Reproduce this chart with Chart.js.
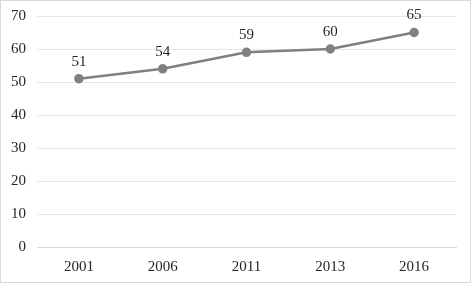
<!DOCTYPE html>
<html><head><meta charset="utf-8">
<script src="https://cdn.jsdelivr.net/npm/chart.js@4"></script>
<style>
html,body{margin:0;padding:0;background:#fff;}
#wrap{width:471px;height:283px;box-sizing:border-box;border:1px solid #d9d9d9;}
</style></head>
<body>
<div id="wrap"><canvas id="c" width="469" height="281"></canvas></div>
<script>
const categories = ['2001','2006','2011','2013','2016'];
const values = [51, 54, 59, 60, 65];
const yTicks = [0,10,20,30,40,50,60,70];

const FONT = "'Liberation Serif', 'Times New Roman', serif";
const labelPlugin = {
  id: 'valueLabels',
  afterDatasetsDraw(chart) {
    const ctx = chart.ctx;
    const meta = chart.getDatasetMeta(0);
    ctx.save();
    ctx.font = '15px ' + FONT;
    ctx.fillStyle = '#262626';
    ctx.textAlign = 'center';
    ctx.textBaseline = 'middle';
    meta.data.forEach((pt, i) => {
      ctx.fillText(String(values[i]), pt.x, pt.y - 17);
    });
    ctx.restore();
  }
};

new Chart(document.getElementById('c'), {
  type: 'line',
  data: {
    labels: categories,
    datasets: [{
      data: values,
      borderColor: '#808080',
      backgroundColor: '#808080',
      borderWidth: 2.5,
      pointRadius: 3.5,
      pointBackgroundColor: '#808080',
      pointBorderColor: '#808080',
      tension: 0,
      fill: false
    }]
  },
  options: {
    responsive: false,
    animation: false,
    layout: { padding: { top: 15, right: 14, left: 0, bottom: 0 } },
    plugins: { legend: { display: false }, tooltip: { enabled: false } },
    scales: {
      x: {
        offset: true,
        grid: { display: false, drawTicks: false },
        border: { display: true, color: '#d9d9d9', width: 1 },
        ticks: { font: { family: FONT, size: 15 }, color: '#262626', padding: 11 },
        afterFit(s) { s.height = 35; s.paddingLeft = 0; s.paddingRight = 0; }
      },
      y: {
        min: 0, max: 70,
        afterBuildTicks(s) { s.ticks = yTicks.map(v => ({ value: v })); },
        grid: { color: '#e6e6e6', lineWidth: 1, drawTicks: false },
        border: { display: false },
        ticks: { font: { family: FONT, size: 15 }, color: '#262626', padding: 11 },
        afterFit(s) { s.width = 36; s.paddingTop = 0; s.paddingBottom = 0; }
      }
    }
  },
  plugins: [labelPlugin]
});
</script>
</body></html>
